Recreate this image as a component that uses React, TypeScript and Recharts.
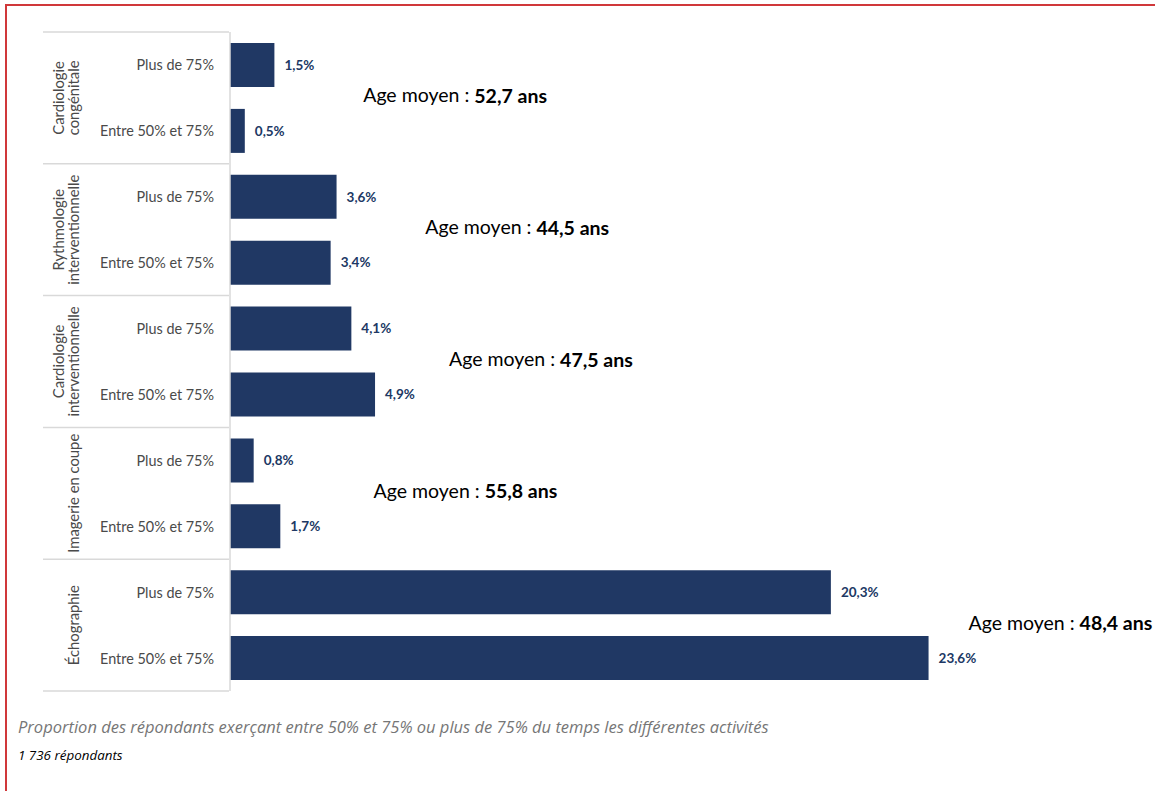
import { BarChart, Bar, XAxis, YAxis, LabelList } from 'recharts';

const groups = [
  'Cardiologie congénitale',
  'Rythmologie interventionnelle',
  'Cardiologie interventionnelle',
  'Imagerie en coupe',
  'Échographie',
];
const groupLines = [
  ['Cardiologie', 'congénitale'],
  ['Rythmologie', 'interventionnelle'],
  ['Cardiologie', 'interventionnelle'],
  ['Imagerie en coupe'],
  ['Échographie'],
];
const levels = ['Plus de 75%', 'Entre 50% et 75%'];
const plusValues = [1.5, 3.6, 4.1, 0.8, 20.3];
const entreValues = [0.5, 3.4, 4.9, 1.7, 23.6];
const ageMoyen = ['52,7', '44,5', '47,5', '55,8', '48,4'];
// where the "Age moyen" note starts, in % units of the value axis
const ageX = [4.5, 6.6, 7.4, 4.85, 24.95];

const data = groups.flatMap((g, i) => [
  { group: g, level: levels[0], value: plusValues[i], gi: i, first: true },
  { group: g, level: levels[1], value: entreValues[i], gi: i, first: false },
]);

const FONT = 'Lato, "Open Sans", sans-serif';
const BAR = '#203864';
const GRID = '#d9d9d9';
const LABEL = '#4a4a4a';
const TOP = 32;
const PLOT_H = 659;
const BAND = PLOT_H / data.length;
const AXIS_LEFT = 43;
const AXIS_RIGHT = 229;

const fmt = (v: number) => v.toFixed(1).replace('.', ',') + '%';

const LevelTick = (props: any) => {
  const { x, y, payload, index } = props;
  const row = data[index] ?? data[payload.index];
  const lines = groupLines[row.gi];
  const cy = y + BAND / 2;
  return (
    <g>
      <text x={x} y={y} textAnchor="end" dominantBaseline="central" fill={LABEL} fontSize={14.4} fontFamily={FONT}>
        {payload.value}
      </text>
      {row.first && (
        <>
          <line x1={AXIS_LEFT} x2={AXIS_RIGHT} y1={y - BAND / 2} y2={y - BAND / 2} stroke={GRID} strokeWidth={1.5} />
          {lines.map((t, k) => {
            const lx = lines.length === 1 ? 73 : 58 + k * 15;
            return (
              <text
                key={k}
                x={lx}
                y={cy}
                transform={`rotate(-90 ${lx} ${cy})`}
                textAnchor="middle"
                dominantBaseline="central"
                fill={LABEL}
                fontSize={14.8}
                fontFamily={FONT}
              >
                {t}
              </text>
            );
          })}
        </>
      )}
      {index === data.length - 1 && (
        <line x1={AXIS_LEFT} x2={AXIS_RIGHT} y1={y + BAND / 2} y2={y + BAND / 2} stroke={GRID} strokeWidth={1.5} />
      )}
    </g>
  );
};

const AgeLabel = (props: any) => {
  const { index } = props;
  const row = data[index];
  if (!row || !row.first) return null;
  const vb = props.viewBox ?? props;
  const bx = vb.x ?? props.x;
  const by = vb.y ?? props.y;
  const bw = vb.width ?? props.width;
  const bh = vb.height ?? props.height;
  const px = bx + (bw * ageX[row.gi]) / row.value;
  const py = by + bh / 2 + BAND / 2 - 3;
  return (
    <text x={px} y={py} dominantBaseline="central" fontSize={19.5} fontFamily={FONT} fill="#000">
      Age moyen : <tspan fontWeight="bold">{ageMoyen[row.gi]} ans</tspan>
    </text>
  );
};

export default function App() {
  return (
    <div
      style={{
        position: 'absolute',
        left: 0,
        top: 0,
        width: 1155,
        height: 791,
        background: '#fff',
        overflow: 'hidden',
        fontFamily: FONT,
      }}
    >
      <div
        style={{
          position: 'absolute',
          left: 5,
          top: 4,
          width: 1200,
          height: 900,
          borderTop: '2px solid #d0383a',
          borderLeft: '2px solid #d0383a',
        }}
      />
      <div style={{ position: 'absolute', left: 0, top: 0 }}>
        <BarChart
          width={1155}
          height={TOP + PLOT_H + 10}
          data={data}
          layout="vertical"
          margin={{ top: TOP, right: 185, bottom: 10, left: AXIS_LEFT }}
          barSize={44}
        >
          <XAxis type="number" domain={[0, 25]} hide />
          <YAxis
            type="category"
            dataKey="level"
            width={AXIS_RIGHT + 1 - AXIS_LEFT}
            tickLine={false}
            tickSize={0}
            tickMargin={16}
            axisLine={{ stroke: GRID, strokeWidth: 1.5 }}
            tick={<LevelTick />}
            interval={0}
          />
          <Bar dataKey="value" fill={BAR} isAnimationActive={false}>
            <LabelList
              dataKey="value"
              position="right"
              offset={10}
              formatter={(v: any) => fmt(Number(v))}
              fill={BAR}
              fontSize={13.5}
              fontWeight="bold"
              fontFamily={FONT}
            />
            <LabelList dataKey="value" content={<AgeLabel />} />
          </Bar>
        </BarChart>
      </div>
      <div
        style={{
          position: 'absolute',
          left: 18,
          top: 715,
          fontSize: 16.5,
          fontStyle: 'italic',
          fontFamily: '"Open Sans", sans-serif',
          color: '#767676',
          whiteSpace: 'nowrap',
        }}
      >
        Proportion des répondants exerçant entre 50% et 75% ou plus de 75% du temps les différentes activités
      </div>
      <div
        style={{
          position: 'absolute',
          left: 18,
          top: 746,
          fontSize: 13.4,
          fontStyle: 'italic',
          fontFamily: '"Open Sans", sans-serif',
          color: '#000',
          whiteSpace: 'nowrap',
        }}
      >
        1 736 répondants
      </div>
    </div>
  );
}
